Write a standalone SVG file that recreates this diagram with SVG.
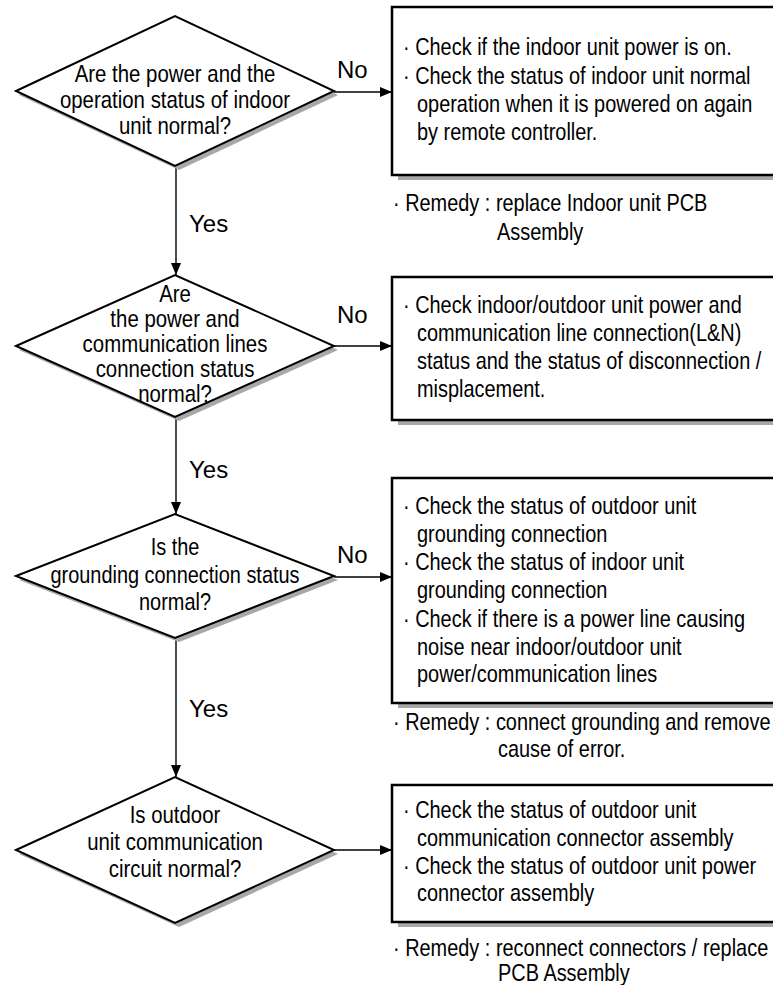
<svg xmlns="http://www.w3.org/2000/svg" width="773" height="985" viewBox="0 0 773 985">
<style>
.bg{fill:#fff}
.dia{fill:#fff;stroke:#000;stroke-width:2}
.dsh{fill:#a8a8a8}
.box{fill:#fff;stroke:#000;stroke-width:2.5}
.bsh{fill:#a8a8a8}
.t{font-family:"Liberation Sans",Arial,sans-serif;font-size:24px;fill:#000}
.c{text-anchor:middle}
.lbl{font-family:"Liberation Sans",Arial,sans-serif;font-size:24px;fill:#000}
.ln{stroke:#000;stroke-width:1.4;fill:none}
</style>
<defs>
<marker id="ah" viewBox="0 0 12 10" refX="12" refY="5" markerWidth="12" markerHeight="10" markerUnits="userSpaceOnUse" orient="auto">
<path d="M0,0 L12,5 L0,10 Z" fill="#000"/>
</marker>
</defs>
<rect class="bg" x="0" y="0" width="773" height="985"/>

<g id="connectors">
<line class="ln" x1="176" y1="168" x2="176" y2="275" marker-end="url(#ah)"/>
<line class="ln" x1="176" y1="419" x2="176" y2="514" marker-end="url(#ah)"/>
<line class="ln" x1="176" y1="640" x2="176" y2="777" marker-end="url(#ah)"/>
<line class="ln" x1="334" y1="92" x2="392" y2="92" marker-end="url(#ah)"/>
<line class="ln" x1="334" y1="346" x2="392" y2="346" marker-end="url(#ah)"/>
<line class="ln" x1="334" y1="577" x2="392" y2="577" marker-end="url(#ah)"/>
<line class="ln" x1="334" y1="850" x2="392" y2="850" marker-end="url(#ah)"/>
<text class="lbl" x="337" y="78">No</text>
<text class="lbl" x="337" y="323">No</text>
<text class="lbl" x="337" y="563">No</text>
<text class="lbl" x="189" y="232">Yes</text>
<text class="lbl" x="189" y="478">Yes</text>
<text class="lbl" x="189" y="717">Yes</text>
</g>

<g id="decision1">
<polygon class="dsh" points="19,95 179,20 338,95 179,170"/>
<polygon class="dia" points="16,91 175,16 334,91 175,166"/>
<text class="t c" transform="translate(175,82) scale(0.85,1)">Are the power and the</text>
<text class="t c" transform="translate(175,108) scale(0.85,1)">operation status of indoor</text>
<text class="t c" transform="translate(175,134) scale(0.85,1)">unit normal?</text>
</g>

<g id="decision2">
<polygon class="dsh" points="19,350 179,279 338,350 179,421"/>
<polygon class="dia" points="16,346 175,275 334,346 175,417"/>
<text class="t c" transform="translate(175,302) scale(0.85,1)">Are</text>
<text class="t c" transform="translate(175,327) scale(0.85,1)">the power and</text>
<text class="t c" transform="translate(175,352) scale(0.85,1)">communication lines</text>
<text class="t c" transform="translate(175,377) scale(0.85,1)">connection status</text>
<text class="t c" transform="translate(175,402) scale(0.85,1)">normal?</text>
</g>

<g id="decision3">
<polygon class="dsh" points="19,580 179,518 338,580 179,642"/>
<polygon class="dia" points="16,576 175,514 334,576 175,638"/>
<text class="t c" transform="translate(175,555) scale(0.83,1)">Is the</text>
<text class="t c" transform="translate(175,583) scale(0.83,1)">grounding connection status</text>
<text class="t c" transform="translate(175,610) scale(0.83,1)">normal?</text>
</g>

<g id="decision4">
<polygon class="dsh" points="19,854 179,781 338,854 179,927"/>
<polygon class="dia" points="16,850 175,777 334,850 175,923"/>
<text class="t c" transform="translate(175,823) scale(0.85,1)">Is outdoor</text>
<text class="t c" transform="translate(175,850) scale(0.85,1)">unit communication</text>
<text class="t c" transform="translate(175,877) scale(0.85,1)">circuit normal?</text>
</g>

<g id="box1">
<rect class="bsh" x="398" y="12" width="390" height="168"/>
<rect class="box" x="392" y="7" width="390" height="168"/>
<text class="t" transform="translate(403,55) scale(0.83,1)">· Check if the indoor unit power is on.</text>
<text class="t" transform="translate(403,83.5) scale(0.83,1)">· Check the status of indoor unit normal</text>
<text class="t" transform="translate(417,112) scale(0.83,1)">operation when it is powered on again</text>
<text class="t" transform="translate(417,140) scale(0.83,1)">by remote controller.</text>
</g>
<g id="remedy1">
<text class="t" transform="translate(393,211) scale(0.83,1)">· Remedy : replace Indoor unit PCB</text>
<text class="t" transform="translate(497,240) scale(0.83,1)">Assembly</text>
</g>

<g id="box2">
<rect class="bsh" x="398" y="282" width="390" height="143"/>
<rect class="box" x="392" y="277" width="390" height="143"/>
<text class="t" transform="translate(403,313) scale(0.83,1)">· Check indoor/outdoor unit power and</text>
<text class="t" transform="translate(417,341) scale(0.83,1)">communication line connection(L&amp;N)</text>
<text class="t" transform="translate(417,369) scale(0.83,1)">status and the status of disconnection /</text>
<text class="t" transform="translate(417,397) scale(0.83,1)">misplacement.</text>
</g>

<g id="box3">
<rect class="bsh" x="398" y="483" width="390" height="225"/>
<rect class="box" x="392" y="478" width="390" height="225"/>
<text class="t" transform="translate(403,514) scale(0.83,1)">· Check the status of outdoor unit</text>
<text class="t" transform="translate(417,542) scale(0.83,1)">grounding connection</text>
<text class="t" transform="translate(403,570) scale(0.83,1)">· Check the status of indoor unit</text>
<text class="t" transform="translate(417,598) scale(0.83,1)">grounding connection</text>
<text class="t" transform="translate(403,627) scale(0.83,1)">· Check if there is a power line causing</text>
<text class="t" transform="translate(417,655) scale(0.83,1)">noise near indoor/outdoor unit</text>
<text class="t" transform="translate(417,682) scale(0.83,1)">power/communication lines</text>
</g>
<g id="remedy3">
<text class="t" transform="translate(393,730) scale(0.83,1)">· Remedy : connect grounding and remove</text>
<text class="t" transform="translate(498,757) scale(0.83,1)">cause of error.</text>
</g>

<g id="box4">
<rect class="bsh" x="398" y="790" width="390" height="137"/>
<rect class="box" x="392" y="785" width="390" height="137"/>
<text class="t" transform="translate(403,818) scale(0.83,1)">· Check the status of outdoor unit</text>
<text class="t" transform="translate(417,846) scale(0.83,1)">communication connector assembly</text>
<text class="t" transform="translate(403,874) scale(0.83,1)">· Check the status of outdoor unit power</text>
<text class="t" transform="translate(417,901) scale(0.83,1)">connector assembly</text>
</g>
<g id="remedy4">
<text class="t" transform="translate(393,956) scale(0.83,1)">· Remedy : reconnect connectors / replace</text>
<text class="t" transform="translate(498,981) scale(0.83,1)">PCB Assembly</text>
</g>
</svg>
